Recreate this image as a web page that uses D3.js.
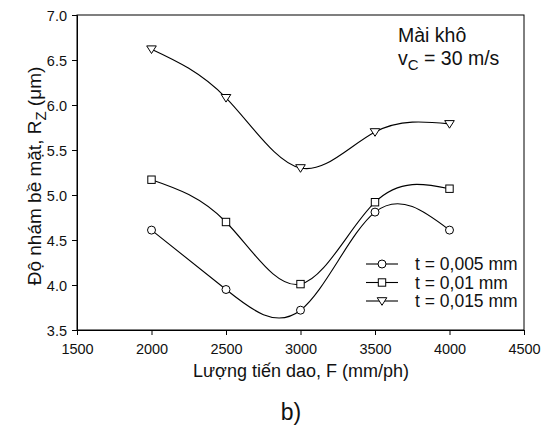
<!DOCTYPE html>
<html><head><meta charset="utf-8">
<script src="https://cdn.jsdelivr.net/npm/d3@7"></script>
<style>body{margin:0;background:#fff}svg{display:block}text{font-family:"Liberation Sans",Arial,sans-serif;fill:#111}</style>
</head><body><svg id="c" width="550" height="430"></svg>
<script>
const feeds = [2000, 2500, 3000, 3500, 4000];
const t005 = [4.61, 3.95, 3.72, 4.81, 4.61];
const t01 = [5.17, 4.70, 4.01, 4.92, 5.07];
const t015 = [6.62, 6.08, 5.30, 5.70, 5.79];
const seriesNames = ["t = 0,005 mm", "t = 0,01 mm", "t = 0,015 mm"];
const seriesShapes = ["circle", "square", "triangle"];
const xTicks = [1500, 2000, 2500, 3000, 3500, 4000, 4500];
const yTicks = [3.5, 4.0, 4.5, 5.0, 5.5, 6.0, 6.5, 7.0];

const svg = d3.select("#c");
const L = 77, R = 524, T = 15, B = 330;
const x = d3.scaleLinear().domain([1500, 4500]).range([L, R]);
const y = d3.scaleLinear().domain([3.5, 7.0]).range([B, T]);

svg.append("rect").attr("x", L).attr("y", T).attr("width", R - L).attr("height", B - T)
  .attr("fill", "none").attr("stroke", "#000").attr("stroke-width", 1);

const xa = svg.append("g").attr("transform", `translate(0,${B})`)
  .call(d3.axisBottom(x).tickValues(xTicks).tickSize(5).tickPadding(9).tickFormat(d3.format("d")));
const ya = svg.append("g").attr("transform", `translate(${L},0)`)
  .call(d3.axisLeft(y).tickValues(yTicks).tickSize(5).tickPadding(5).tickFormat(d3.format(".1f")));
[xa, ya].forEach(a => {
  a.select(".domain").attr("stroke", "#000");
  a.selectAll(".tick line").attr("stroke", "#000");
  a.selectAll("text").attr("font-size", 14.5).attr("font-family", "Liberation Sans, Arial, sans-serif").attr("fill", "#111");
});
ya.selectAll("text").attr("dy", "0.36em");

const data = [t005, t01, t015];
const line = d3.line().x((d, i) => x(feeds[i])).y(d => y(d)).curve(d3.curveNatural);

function marker(g, shape, cx, cy) {
  if (shape === "circle") {
    g.append("circle").attr("cx", cx).attr("cy", cy).attr("r", 4)
      .attr("fill", "#fff").attr("stroke", "#000").attr("stroke-width", 1);
  } else if (shape === "square") {
    g.append("rect").attr("x", cx - 3.7).attr("y", cy - 3.7).attr("width", 7.4).attr("height", 7.4)
      .attr("fill", "#fff").attr("stroke", "#000").attr("stroke-width", 1);
  } else {
    g.append("path").attr("d", `M${cx - 4.8},${cy - 3.3}L${cx + 4.8},${cy - 3.3}L${cx},${cy + 4.3}Z`)
      .attr("fill", "#fff").attr("stroke", "#000").attr("stroke-width", 1);
  }
}

data.forEach((s, k) => {
  svg.append("path").datum(s).attr("d", line).attr("fill", "none").attr("stroke", "#000").attr("stroke-width", 1.1);
});
data.forEach((s, k) => {
  const g = svg.append("g");
  s.forEach((v, i) => marker(g, seriesShapes[k], x(feeds[i]), y(v)));
});

const legY = [264, 282.5, 301];
seriesNames.forEach((n, k) => {
  const g = svg.append("g");
  g.append("line").attr("x1", 366).attr("x2", 398).attr("y1", legY[k]).attr("y2", legY[k]).attr("stroke", "#000").attr("stroke-width", 1.1);
  marker(g, seriesShapes[k], 382, legY[k]);
  g.append("text").attr("x", 415).attr("y", legY[k] + 6.3).attr("font-size", 17.5).text(n);
});

svg.append("text").attr("x", 398).attr("y", 42).attr("font-size", 19.5).text("Mài khô");
const vt = svg.append("text").attr("x", 398).attr("y", 65).attr("font-size", 19.5);
vt.append("tspan").text("v");
vt.append("tspan").attr("dy", 5).attr("font-size", 15).text("C");
vt.append("tspan").attr("dy", -5).text(" = 30 m/s");

svg.append("text").attr("x", 301).attr("y", 377).attr("text-anchor", "middle").attr("font-size", 18)
  .text("Lượng tiến dao, F (mm/ph)");
const yt = svg.append("text").attr("transform", `translate(41,176) rotate(-90)`)
  .attr("text-anchor", "middle").attr("font-size", 19);
yt.append("tspan").text("Độ nhám bề mặt, R");
yt.append("tspan").attr("dy", 5).attr("font-size", 15).text("Z");
yt.append("tspan").attr("dy", -5).text(" (μm)");

svg.append("text").attr("x", 291).attr("y", 420).attr("text-anchor", "middle").attr("font-size", 23)
  .attr("font-family", "Liberation Sans Narrow, DejaVu Sans Condensed, sans-serif").attr("font-stretch", "condensed")
  .text("b)");
</script></body></html>
